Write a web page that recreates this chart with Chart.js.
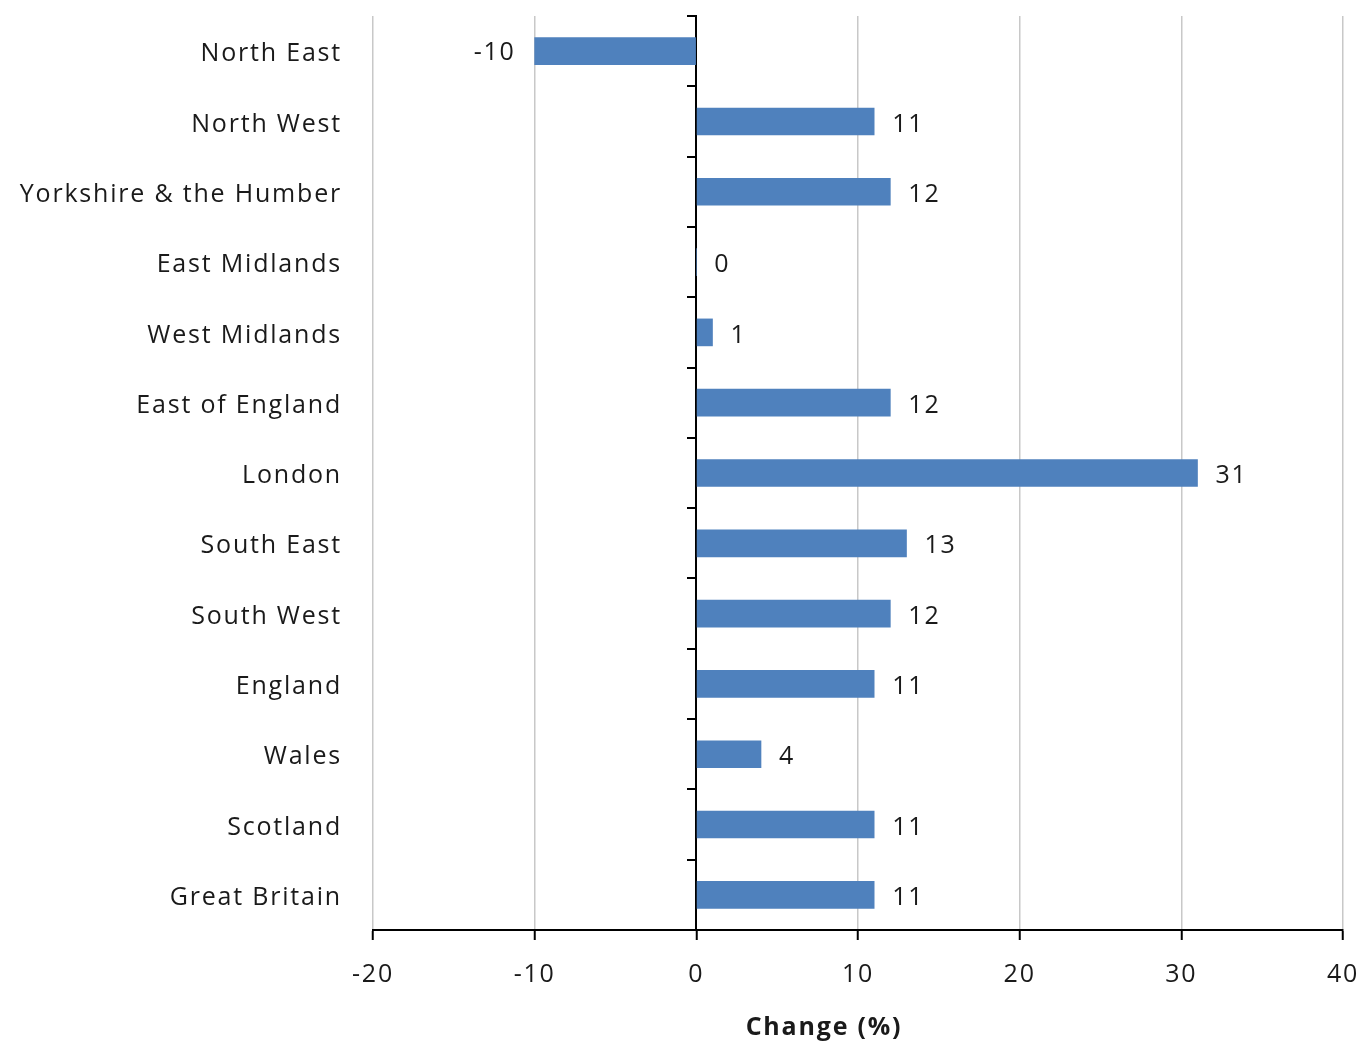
<!DOCTYPE html>
<html>
<head>
<meta charset="utf-8">
<script src="https://cdn.jsdelivr.net/npm/chart.js@4.4.1/dist/chart.umd.min.js"></script>
<style>
  html, body { margin: 0; padding: 0; background: #fff; }
  #wrap { width: 1362px; height: 1043px; }
</style>
</head>
<body>
<div id="wrap"><canvas id="chart"></canvas></div>
<script>
// Regional change, percent
const regions = [
  'North East', 'North West', 'Yorkshire & the Humber', 'East Midlands',
  'West Midlands', 'East of England', 'London', 'South East', 'South West',
  'England', 'Wales', 'Scotland', 'Great Britain'
];
const changePct = [-10, 11, 12, 0, 1, 12, 31, 13, 12, 11, 4, 11, 11];
const xTicks = [-20, -10, 0, 10, 20, 30, 40];

const FONT = "'Open Sans', 'Noto Sans', sans-serif";
const TEXT = '#1a1a1a';
const SPACING = '1.8px';

// wider letter spacing for all text on the canvas
const spacing = {
  id: 'spacing',
  beforeUpdate(chart) { chart.ctx.letterSpacing = SPACING; },
  beforeDraw(chart) { chart.ctx.letterSpacing = SPACING; }
};

// value labels next to the end of each bar
const barLabels = {
  id: 'barLabels',
  afterDatasetsDraw(chart) {
    const ctx = chart.ctx;
    const meta = chart.getDatasetMeta(0);
    ctx.save();
    ctx.font = '25px ' + FONT;
    ctx.fillStyle = TEXT;
    ctx.textBaseline = 'middle';
    meta.data.forEach((bar, i) => {
      const v = changePct[i];
      if (v < 0) {
        ctx.textAlign = 'right';
        ctx.fillText(String(v), bar.x - 19, bar.y + 2);
      } else {
        ctx.textAlign = 'left';
        ctx.fillText(String(v), bar.x + 18, bar.y + 3);
      }
    });
    ctx.restore();
  }
};

// axis title, sitting a little left of centre
const axisTitle = {
  id: 'axisTitle',
  afterDraw(chart) {
    const ctx = chart.ctx;
    const a = chart.chartArea;
    ctx.save();
    ctx.font = 'bold 25px ' + FONT;
    ctx.fillStyle = TEXT;
    ctx.textAlign = 'center';
    ctx.textBaseline = 'middle';
    ctx.fillText('Change (%)', (a.left + a.right) / 2 - 34, a.bottom + 98);
    ctx.restore();
  }
};

new Chart(document.getElementById('chart'), {
  type: 'bar',
  data: {
    labels: regions,
    datasets: [{
      data: changePct,
      backgroundColor: '#4f81bd',
      borderWidth: 0,
      barThickness: 27
    }]
  },
  options: {
    indexAxis: 'y',
    responsive: true,
    maintainAspectRatio: false,
    animation: false,
    layout: { padding: { top: 16, right: 19, left: 0, bottom: 0 } },
    plugins: {
      legend: { display: false },
      tooltip: { enabled: false }
    },
    scales: {
      x: {
        type: 'linear',
        min: -20,
        max: 40,
        afterBuildTicks: (scale) => { scale.ticks = xTicks.map(v => ({ value: v })); },
        afterFit: (scale) => {
          scale.height = 113;
          scale.paddingLeft = 0;
          scale.paddingRight = 0;
        },
        border: { display: true, color: '#000', width: 2 },
        grid: {
          color: (c) => c.tick && c.tick.value === 0 ? 'rgba(0,0,0,0)' : '#c8c8c8',
          lineWidth: 1.5,
          tickColor: '#000',
          tickWidth: 2,
          tickLength: 10
        },
        ticks: {
          color: TEXT,
          font: { family: FONT, size: 25 },
          padding: 20,
          maxRotation: 0
        }
      },
      y: {
        position: 'left',
        afterFit: (scale) => {
          scale.width = 373;
          scale.paddingTop = 0;
          scale.paddingBottom = 0;
        },
        border: { display: false },
        grid: { display: false, drawTicks: false },
        ticks: {
          color: TEXT,
          font: { family: FONT, size: 25 },
          padding: 31,
          labelOffset: 3
        }
      },
      // zero line with category tick marks
      y2: {
        type: 'category',
        position: { x: 0 },
        offset: true,
        border: { display: true, color: '#000', width: 2 },
        grid: {
          offset: true,
          drawOnChartArea: false,
          tickLength: 8,
          tickColor: '#000',
          lineWidth: 2
        },
        ticks: { display: false }
      }
    }
  },
  plugins: [spacing, barLabels, axisTitle]
});
</script>
</body>
</html>
